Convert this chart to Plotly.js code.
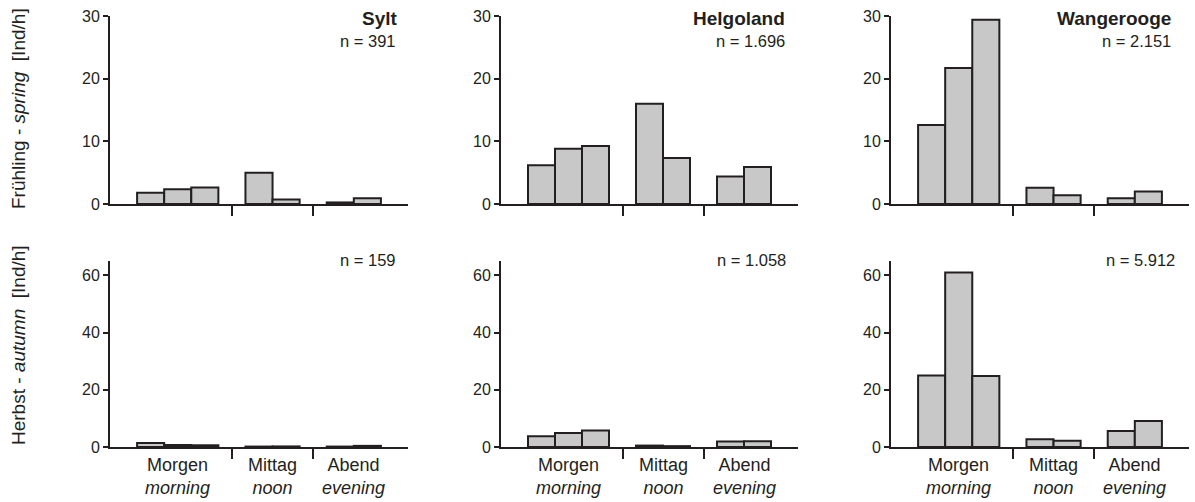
<!DOCTYPE html>
<html>
<head>
<meta charset="utf-8">
<script src="https://cdn.plot.ly/plotly-3.0.1.min.js"></script>
<style>
  html, body { margin: 0; padding: 0; background: #ffffff; }
  #chart { width: 1195px; height: 502px; }
</style>
</head>
<body>
<div id="chart"></div>
<script>
// ---- data ----
const categoriesDe = ['Morgen', 'Mittag', 'Abend'];
const categoriesEn = ['morning', 'noon', 'evening'];
const barsPerCategory = [3, 2, 2];
const sites = ['Sylt', 'Helgoland', 'Wangerooge'];
const nSpring = ['391', '1.696', '2.151'];
const nAutumn = ['159', '1.058', '5.912'];
const seasonTitlesDe = ['Frühling', 'Herbst'];
const seasonTitlesEn = ['spring', 'autumn'];
const unitLabel = '[Ind/h]';

// values in Ind/h, bars in order: Morgen (3), Mittag (2), Abend (2)
const springSylt       = [1.8, 2.35, 2.65, 5.0, 0.7, 0.25, 0.9];
const springHelgoland  = [6.2, 8.8, 9.25, 16.0, 7.35, 4.4, 5.9];
const springWangerooge = [12.6, 21.7, 29.4, 2.6, 1.4, 0.9, 2.0];
const autumnSylt       = [1.4, 0.7, 0.6, 0.15, 0.2, 0.15, 0.4];
const autumnHelgoland  = [3.8, 4.9, 5.8, 0.5, 0.3, 1.9, 2.0];
const autumnWangerooge = [25.0, 61.0, 24.8, 2.7, 2.2, 5.6, 9.1];

const springTicks = [0, 10, 20, 30];
const autumnTicks = [0, 20, 40, 60];
const springMax = 30;
const autumnMax = 65;

// ---- slot structure derived from the category groups ----
const barX = [];
const sepX = [];
const labelX = [];
let start = 1;
barsPerCategory.forEach((cnt, gi) => {
  for (let i = 0; i < cnt; i++) barX.push(start + i + 0.5);
  labelX.push(start + cnt / 2);
  if (gi < barsPerCategory.length - 1) sepX.push(start + cnt + 0.5);
  start += cnt + 1;
});
const xMax = start;

const springData = [springSylt, springHelgoland, springWangerooge];
const autumnData = [autumnSylt, autumnHelgoland, autumnWangerooge];

// ---- layout geometry (pixels) ----
const W = 1195, H = 502;
const colLeft = [110, 501, 891];
const colRight = [408, 798, 1189];
const rowTop = [16, 261];
const rowBottom = [204, 447];
const ink = '#231f20';
const fontFam = 'Liberation Sans, Arial, Helvetica, sans-serif';

const traces = [];
const layout = {
  width: W, height: H,
  margin: {l: 0, r: 0, t: 0, b: 0},
  paper_bgcolor: '#ffffff',
  plot_bgcolor: 'rgba(0,0,0,0)',
  showlegend: false,
  font: {family: fontFam, size: 16, color: ink},
  annotations: [],
  bargap: 0
};

const allData = [springData, autumnData];
const allTicks = [springTicks, autumnTicks];
const allMax = [springMax, autumnMax];

let k = 0;
for (let r = 0; r < 2; r++) {
  for (let c = 0; c < 3; c++) {
    k++;
    const xa = 'x' + (k === 1 ? '' : k);
    const ya = 'y' + (k === 1 ? '' : k);
    traces.push({
      type: 'bar',
      x: barX,
      y: allData[r][c],
      width: 1,
      xaxis: xa, yaxis: ya,
      marker: {color: '#c8c8c8', line: {color: ink, width: 2}},
      hoverinfo: 'y'
    });
    layout['xaxis' + (k === 1 ? '' : k)] = {
      domain: [colLeft[c] / W, colRight[c] / W],
      anchor: ya,
      range: [0, xMax],
      showgrid: false, zeroline: false,
      showline: true, linecolor: ink, linewidth: 2,
      tickmode: 'array', tickvals: sepX, ticktext: sepX.map(() => ''),
      ticks: 'outside', ticklen: 10, tickwidth: 2, tickcolor: ink,
      showticklabels: false, fixedrange: true
    };
    layout['yaxis' + (k === 1 ? '' : k)] = {
      domain: [1 - rowBottom[r] / H, 1 - rowTop[r] / H],
      anchor: xa,
      range: [0, allMax[r]],
      showgrid: false, zeroline: false,
      showline: true, linecolor: ink, linewidth: 2,
      tickmode: 'array', tickvals: allTicks[r],
      ticks: 'outside', ticklen: 5, tickwidth: 2, tickcolor: ink,
      tickfont: {size: 16, color: ink, family: fontFam},
      fixedrange: true
    };
  }
}

// site titles and n labels
const titleRight = [400, 787, 1173];
const nRightTop = [398, 787, 1173];
const nRightBottom = [398, 788, 1177];
for (let c = 0; c < 3; c++) {
  layout.annotations.push({
    xref: 'paper', yref: 'paper', x: titleRight[c] / W, y: 1 - 19 / H,
    xanchor: 'right', yanchor: 'middle', showarrow: false,
    text: '<b>' + sites[c] + '</b>', font: {size: 19, color: ink, family: fontFam}
  });
  layout.annotations.push({
    xref: 'paper', yref: 'paper', x: nRightTop[c] / W, y: 1 - 41 / H,
    xanchor: 'right', yanchor: 'middle', showarrow: false,
    text: 'n = ' + nSpring[c], font: {size: 16.5, color: ink, family: fontFam}
  });
  layout.annotations.push({
    xref: 'paper', yref: 'paper', x: nRightBottom[c] / W, y: 1 - 260 / H,
    xanchor: 'right', yanchor: 'middle', showarrow: false,
    text: 'n = ' + nAutumn[c], font: {size: 16.5, color: ink, family: fontFam}
  });
  // category labels under bottom row
  const xa = 'x' + (4 + c);
  labelX.forEach((lx, i) => {
    layout.annotations.push({
      xref: xa, yref: 'paper', x: lx, y: 1 - 453 / H,
      xanchor: 'center', yanchor: 'top', showarrow: false,
      text: categoriesDe[i] + '<br><i>' + categoriesEn[i] + '</i>',
      font: {size: 18, color: ink, family: fontFam}
    });
  });
}

// season (row) titles
const rowTitleY = [109, 345];
for (let r = 0; r < 2; r++) {
  layout.annotations.push({
    xref: 'paper', yref: 'paper', x: 18 / W, y: 1 - rowTitleY[r] / H,
    xanchor: 'center', yanchor: 'middle', showarrow: false, textangle: -90,
    text: seasonTitlesDe[r] + ' - <i>' + seasonTitlesEn[r] + '</i>\u00a0\u00a0' + unitLabel,
    font: {size: 19, color: ink, family: fontFam}
  });
}

Plotly.newPlot('chart', traces, layout, {displayModeBar: false, staticPlot: true});
</script>
</body>
</html>
